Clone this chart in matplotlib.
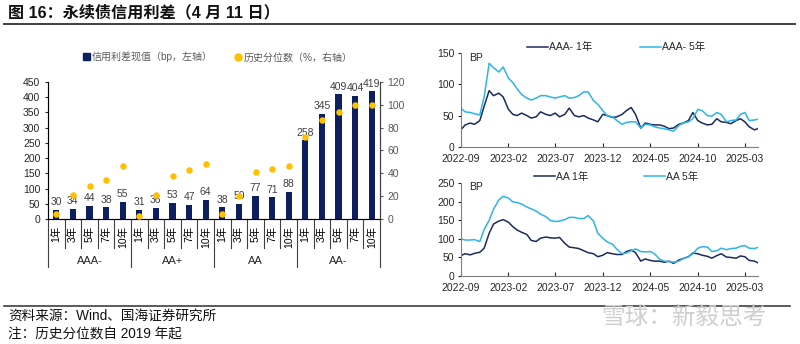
import numpy as np
import pandas as pd
import matplotlib
matplotlib.use('Agg')
import matplotlib.pyplot as plt
import matplotlib.dates as mdates
from matplotlib.lines import Line2D
from matplotlib.patches import Patch

plt.rcParams['font.family'] = ['Liberation Sans', 'Noto Sans CJK SC']

# perpetual bond spreads by rating / tenor (left panel)
tenors = ['1年', '3年', '5年', '7年', '10年']
ratings = ['AAA-', 'AA+', 'AA', 'AA-']
spread_bp = [30, 34, 44, 38, 55, 31, 36, 53, 47, 64, 38, 50, 77, 71, 88, 258, 345, 409, 404, 419]
pctile = [4, 21, 29, 34, 46, 3, 21, 38, 43, 48, 4, 20, 41, 44, 46, 72, 87, 94, 100, 100]

# spread history, semi-monthly samples up to 2025-04-11 (right panels)
dates = pd.date_range('2022-09-01', '2025-04-01', freq='SMS').append(pd.DatetimeIndex(['2025-04-11']))
aaa_1y = [27, 35, 38, 36, 42, 65, 90, 82, 86, 80, 60, 52, 50, 54, 50, 46, 48, 56, 52, 50,
          54, 48, 52, 62, 50, 48, 50, 46, 43, 40, 52, 50, 47, 48, 52, 58, 63, 52, 30, 38,
          36, 35, 35, 33, 29, 30, 36, 38, 42, 55, 42, 38, 35, 36, 45, 40, 39, 37, 42, 45,
          40, 32, 27, 29]
aaa_5y = [62, 56, 55, 53, 51, 80, 134, 127, 120, 128, 110, 103, 93, 84, 78, 75, 78, 82, 82, 80,
          78, 80, 82, 78, 79, 82, 88, 88, 74, 68, 58, 50, 48, 42, 36, 39, 40, 40, 30, 36,
          35, 32, 30, 29, 27, 25, 34, 38, 40, 45, 60, 58, 50, 49, 55, 52, 40, 42, 43, 52,
          55, 42, 43, 44]
aa_1y = [55, 60, 57, 61, 64, 75, 115, 140, 148, 152, 145, 133, 124, 118, 112, 96, 93, 102, 105, 103,
         102, 104, 88, 78, 76, 74, 68, 63, 60, 52, 56, 63, 60, 58, 58, 66, 70, 63, 40, 46,
         42, 40, 40, 37, 40, 34, 43, 47, 52, 62, 60, 56, 53, 48, 55, 60, 51, 50, 48, 54,
         52, 42, 40, 36]
aa_5y = [100, 97, 97, 98, 93, 125, 150, 180, 205, 215, 210, 200, 198, 194, 186, 181, 175, 167, 160, 150,
         147, 148, 152, 158, 158, 155, 155, 163, 148, 115, 102, 92, 86, 72, 60, 62, 68, 73, 66, 65,
         66, 60, 45, 40, 39, 37, 40, 47, 52, 60, 75, 79, 78, 66, 68, 75, 71, 74, 75, 80,
         82, 75, 74, 77]

NAVY = '#0c2060'
GOLD = '#ffc000'
SKY = '#2cb5e8'
DARK = '#1c2a5e'

fig = plt.figure(figsize=(8, 3.44), dpi=100)

# title and rules
fig.text(0.01, 0.962, '图 16：永续债信用利差（4 月 11 日）', fontsize=11.6, fontweight='bold',
         va='center', ha='left', color='#111111')
fig.add_artist(Line2D([0.005, 0.994], [0.930, 0.930], transform=fig.transFigure, color='#404040', lw=1.4))
fig.add_artist(Line2D([0.005, 0.988], [0.1105, 0.1105], transform=fig.transFigure, color='#404040', lw=1.2))
fig.text(0.01, 0.081, '资料来源：Wind、国海证券研究所', fontsize=9.8, va='center', color='#111111')
fig.text(0.01, 0.029, '注：历史分位数自 2019 年起', fontsize=9.8, va='center', color='#111111')
fig.text(0.752, 0.076, '雪球：新毅思考', fontsize=17, va='center', color='#cfcfcf')

# ---- left: bars + percentile dots
ax1 = fig.add_axes([0.06, 0.3634, 0.415, 0.3983])
x = np.arange(len(spread_bp))
bars = ax1.bar(x, spread_bp, width=0.38, color=NAVY, zorder=2)
ax1.bar_label(bars, padding=2, fontsize=7.5, color='#404040')
ax1.set_xlim(-0.5, len(x) - 0.5)
ax1.set_ylim(0, 450)
ax1.set_yticks(np.arange(0, 451, 50))
ax1.set_xticks(x)
ax1.set_xticklabels(tenors * len(ratings), rotation=90, fontsize=7.5)
ax1.tick_params(axis='x', length=0, pad=5)
ax1.tick_params(axis='y', labelsize=7.5, length=2, colors='#262626')
ax1.spines['top'].set_visible(False)
for s in ['left', 'bottom', 'right']:
    ax1.spines[s].set_color('#404040')
    ax1.spines[s].set_linewidth(0.8)

ax2 = ax1.twinx()
ax2.scatter(x, pctile, s=22, color=GOLD, zorder=3, linewidths=0)
ax2.set_ylim(0, 120)
ax2.set_yticks(np.arange(0, 121, 20))
ax2.tick_params(axis='y', labelsize=7.5, length=2, colors='#595959')
ax2.spines['top'].set_visible(False)
ax2.spines['right'].set_color('#404040')
ax2.spines['right'].set_linewidth(0.8)

# category separators below the axis
tr = ax1.get_xaxis_transform()
for b in np.arange(-0.5, len(x), 1):
    major = (b + 0.5) % len(tenors) == 0
    ax1.plot([b, b], [0, -0.35 if major else -0.212], transform=tr, color='#404040',
             lw=0.8, clip_on=False)
for i, r in enumerate(ratings):
    ax1.text(i * len(tenors) + (len(tenors) - 1) / 2, -0.307, r, transform=tr,
             ha='center', va='center', fontsize=8, color='#262626')

fig.legend(handles=[Patch(color=NAVY, label='信用利差现值（bp，左轴）'),
                    Line2D([], [], marker='o', ls='', color=GOLD, markersize=5,
                           label='历史分位数（%，右轴）')],
           loc='center', bbox_to_anchor=(0.272, 0.834), ncol=2, frameon=False,
           fontsize=7.2, labelcolor='#595959', handlelength=0.7, handleheight=0.7,
           handletextpad=0.2, columnspacing=2.2)

# ---- right: spread history panels
ticks = pd.date_range('2022-09-01', periods=7, freq='5MS')
panels = [
    ([0.576, 0.5735, 0.371, 0.2715], aaa_1y, aaa_5y, 'AAA- 1年', 'AAA- 5年', 150, 0.863, 4.6),
    ([0.576, 0.1977, 0.371, 0.2695], aa_1y, aa_5y, 'AA 1年', 'AA 5年', 250, 0.4855, 5.4),
]
for rect, s1, s5, l1, l5, ymax, ly, cs in panels:
    ax = fig.add_axes(rect)
    h1, = ax.plot(dates, s1, color=DARK, lw=1.1, label=l1)
    h5, = ax.plot(dates, s5, color=SKY, lw=1.1, label=l5)
    ax.set_xlim(dates[0], dates[-1])
    ax.set_ylim(0, ymax)
    ax.set_yticks(np.arange(0, ymax + 1, 50))
    ax.set_xticks(ticks)
    ax.xaxis.set_major_formatter(mdates.DateFormatter('%Y-%m'))
    ax.tick_params(axis='x', direction='in', length=3, labelsize=7.5, pad=5, colors='#262626')
    ax.tick_params(axis='y', length=2, pad=2.5, labelsize=7.5, colors='#262626')
    for s in ['top', 'right']:
        ax.spines[s].set_visible(False)
    for s in ['left', 'bottom']:
        ax.spines[s].set_color('#7f7f7f')
        ax.spines[s].set_linewidth(0.8)
    ax.text(0.027, 0.955, 'BP', transform=ax.transAxes, fontsize=7.5, va='center', color='#262626')
    fig.legend(handles=[h1, h5], loc='center', bbox_to_anchor=(0.77, ly), ncol=2, frameon=False,
               fontsize=7.5, handlelength=2.0, handletextpad=0.1, columnspacing=cs,
               labelcolor='#262626')

fig.savefig('out.png', dpi=100, facecolor='white')
